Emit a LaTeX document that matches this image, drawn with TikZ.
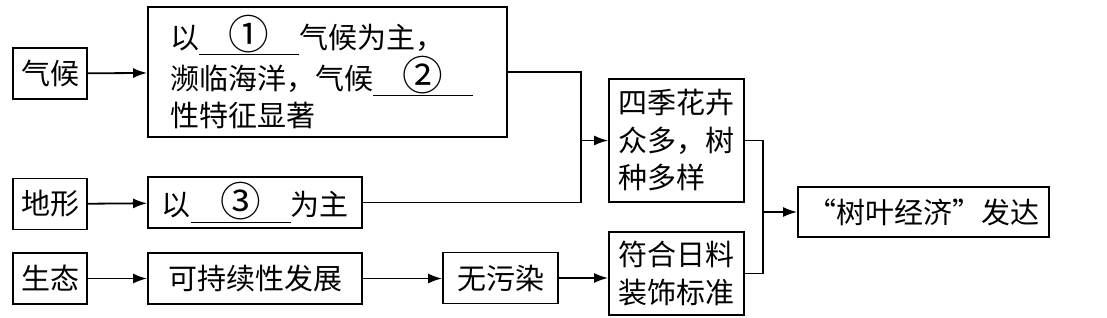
\documentclass[tikz,border=0pt]{standalone}
\usepackage{fontspec}
\newfontfamily\cjk{Noto Sans CJK SC}
\usepackage{tikz}
\usetikzlibrary{arrows.meta,calc,positioning}
\newcommand{\blank}[1]{\underline{\makebox[100pt]{\raisebox{-1pt}{\scalebox{1.4}{#1}}}}}

\begin{document}
\begin{tikzpicture}[
        x=1pt,y=-1pt,
        box/.style={draw,line width=1.8pt,inner sep=0pt,minimum height=51pt,align=center,font=\cjk\fontsize{29}{37.5}\selectfont},
        arrow/.style={-{Latex[length=14pt,width=10pt]},line width=1.8pt},
        link/.style={line width=1.8pt}
      ]
        \useasboundingbox (0,0) rectangle (1107,318);
        \node[box,minimum width=74pt] (climate) at (50,73.5) {气候};
        \node[box,minimum width=359pt,minimum height=130pt,text width=315pt,align=left] (climatetext) at (327.5,72) {以\blank{①}气候为主，\\濒临海洋，气候\blank{②}\\性特征显著};
        \node[box,minimum width=74pt] (terrain) at (50,204) {地形};
        \node[box,minimum width=214pt] (terraintext) at (255,202.5) {以\blank{③}为主};
        \node[box,minimum width=74pt] (ecology) at (50,278.5) {生态};
        \node[box,minimum width=214pt] (sustain) at (255,278.5) {可持续性发展};
        \node[box,minimum width=115pt] (pollution) at (500.5,278) {无污染};
        \node[box,minimum width=135pt,minimum height=123pt,text width=116pt,align=left] (flowers) at (676.5,140.5) {四季花卉\\众多，树\\种多样};
        \node[box,minimum width=135pt,minimum height=83pt] (standard) at (676.5,273.5) {符合日料\\装饰标准};
        \node[box,minimum width=251pt,minimum height=50pt] (economy) at (923.5,212) {“树叶经济”发达};
        \coordinate (join1) at (581,140.5);
        \coordinate (join2) at (763,212);
        \draw[arrow] (climate) -- (climatetext);
        \draw[arrow] (terrain) -- (terraintext);
        \draw[arrow] (ecology) -- (sustain);
        \draw[arrow] (sustain.east) -- (sustain.east -| pollution.west);
        \draw[arrow] (pollution.east) -- (pollution.east -| standard.west);
        \draw[link] (climatetext.east) -| (join1) |- (terraintext.east);
        \draw[arrow] (join1) -- (flowers.west);
        \draw[link] (flowers.east) -| (join2) |- (standard.east);
        \draw[arrow] (join2) -- (economy.west);
      \end{tikzpicture}
\end{document}
